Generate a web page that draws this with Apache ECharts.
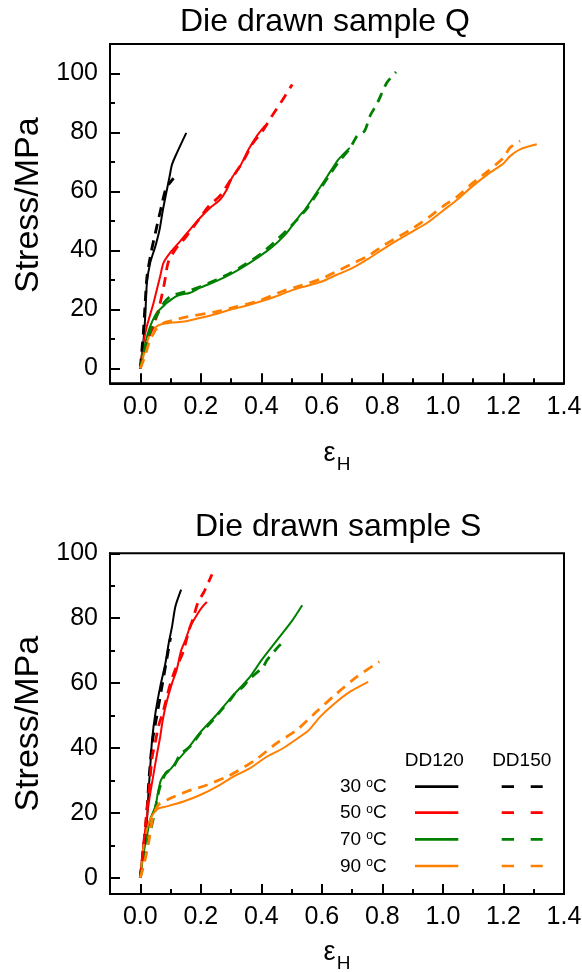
<!DOCTYPE html>
<html>
<head>
<meta charset="utf-8">
<script src="https://cdn.jsdelivr.net/npm/echarts@6/dist/echarts.min.js"></script>
<style>
html,body{margin:0;padding:0;background:#fff;}
#chart{width:582px;height:972px;}
</style>
</head>
<body>
<div id="chart"></div>
<script>
// ---------- tick values ----------
const xMajorTicks = [0, 0.2, 0.4, 0.6, 0.8, 1.0, 1.2, 1.4];
const xMinorTicks = [0.1, 0.3, 0.5, 0.7, 0.9, 1.1, 1.3];
const yMajorTicks = [0, 20, 40, 60, 80, 100];
const yMinorTicks = [10, 30, 50, 70, 90];

// ---------- legend / names ----------
const temperatures = ['30', '50', '70', '90'];
const samples = ['DD120', 'DD150'];
const colors = ['#000000', '#ff0000', '#008000', '#ff8000'];
const titles = ['Die drawn sample Q', 'Die drawn sample S'];

// ---------- Sample Q (top) : [strain, stress] ----------
const q30_dd120 = [[0,0],[0.011,9.9],[0.0165,17.8],[0.022,29.1],[0.033,35.9],[0.05,41.5],[0.064,47.2],[0.075,53.9],[0.086,59.6],[0.097,65.2],[0.105,69.2],[0.121,73.1],[0.152,79.9]];
const q30_dd150 = [[0,0],[0.01,12],[0.016,22],[0.022,31],[0.035,39],[0.05,46],[0.07,55],[0.085,61],[0.11,64.5]];
const q50_dd120 = [[0,0],[0.011,9],[0.022,14.4],[0.044,22.3],[0.066,31.4],[0.077,35.9],[0.099,39.3],[0.132,43.2],[0.165,47.2],[0.198,51.1],[0.231,54.5],[0.264,57.3],[0.286,60.7],[0.303,64.7],[0.33,68.6],[0.358,74.3],[0.385,78.8],[0.413,82.4]];
const q50_dd150 = [[0,0],[0.012,5],[0.03,11],[0.045,15],[0.061,20.1],[0.08,29.1],[0.092,35.9],[0.116,40.4],[0.153,44.9],[0.19,50],[0.227,55.1],[0.263,58.5],[0.3,64.1],[0.337,69.8],[0.373,76.5],[0.404,80.5],[0.435,85.6],[0.471,91.2],[0.502,96.3]];
const q70_dd120 = [[0,0],[0.01,5],[0.02,10],[0.033,14.4],[0.055,19],[0.075,21],[0.088,22.3],[0.121,24.6],[0.165,25.7],[0.198,27.4],[0.253,29.7],[0.308,32.5],[0.363,35.9],[0.418,39.8],[0.45,42.5],[0.484,46],[0.528,52],[0.545,54],[0.582,59.6],[0.618,65.2],[0.655,70.9],[0.692,74.8]];
const q70_dd150 = [[0,0],[0.012,5],[0.025,10],[0.04,15],[0.06,19],[0.08,22.5],[0.1,24.5],[0.13,25.5],[0.165,26.5],[0.2,27.8],[0.25,30],[0.3,32.5],[0.35,35.5],[0.4,39],[0.45,43.5],[0.5,48.5],[0.545,53.5],[0.582,59],[0.618,64.5],[0.655,70],[0.692,74.5],[0.716,78.8],[0.741,80.5],[0.759,85.6],[0.784,90.1],[0.814,96.8],[0.845,100.5]];
const q90_dd120 = [[0,0],[0.01,4],[0.02,8],[0.033,12],[0.05,14],[0.07,15],[0.1,15.5],[0.15,16],[0.2,17.2],[0.25,18.5],[0.3,20],[0.35,21.3],[0.4,22.8],[0.45,24.5],[0.5,26.5],[0.55,28],[0.6,29.5],[0.65,31.8],[0.7,34],[0.75,37],[0.8,40.3],[0.85,43.5],[0.9,46.5],[0.95,49.5],[1.0,53.5],[1.05,57.5],[1.1,62],[1.15,66],[1.2,69.5],[1.222,72],[1.255,74.3],[1.31,76]];
const q90_dd150 = [[0,0],[0.015,4],[0.03,9],[0.05,13],[0.07,15],[0.088,15.8],[0.154,17.5],[0.248,19.2],[0.319,21],[0.391,22.9],[0.473,26.3],[0.528,28],[0.6,30.5],[0.65,33],[0.7,35.5],[0.75,38],[0.8,41.5],[0.85,44.5],[0.9,47.5],[0.95,51],[1.0,55],[1.05,58.5],[1.1,63],[1.15,67],[1.2,71.5],[1.222,74.9],[1.255,77.1]];

// ---------- Sample S (bottom) ----------
const s30_dd120 = [[0,0],[0.009,8.5],[0.022,17.8],[0.027,26],[0.033,34.2],[0.039,42.5],[0.05,50.7],[0.066,58.9],[0.083,66.1],[0.094,72.3],[0.105,77.4],[0.116,83.6],[0.135,88.8]];
const s30_dd150 = [[0,0],[0.01,8],[0.02,18],[0.03,32],[0.04,42],[0.055,50],[0.07,58],[0.085,66],[0.1,74]];
const s50_dd120 = [[0,0],[0.011,10.6],[0.022,18.8],[0.033,26],[0.044,32],[0.055,38],[0.065,43],[0.075,49],[0.088,54.5],[0.105,60],[0.12,64],[0.135,70],[0.15,73.5],[0.165,77.4],[0.187,81],[0.205,83.5],[0.22,85]];
const s50_dd150 = [[0,0],[0.01,9],[0.02,19],[0.03,28],[0.039,37],[0.05,42],[0.061,47],[0.075,51],[0.086,55],[0.1,60],[0.115,64],[0.13,67],[0.143,70],[0.16,76],[0.175,80],[0.19,84.7],[0.21,88],[0.225,91],[0.237,93.5]];
const s70_dd120 = [[0,0],[0.01,7],[0.02,12],[0.033,18],[0.05,22],[0.058,26],[0.068,30],[0.085,32.5],[0.1,33.5],[0.121,36],[0.15,39],[0.2,45],[0.25,50],[0.3,55.5],[0.363,62],[0.4,67],[0.45,73],[0.5,79],[0.535,84]];
const s70_dd150 = [[0,0],[0.015,6],[0.03,13],[0.045,19],[0.055,24],[0.065,28],[0.083,32],[0.11,34.2],[0.132,38],[0.165,40.5],[0.198,44.5],[0.22,46.6],[0.242,48.7],[0.264,51.3],[0.297,54.8],[0.314,56.9],[0.341,59],[0.358,61],[0.407,65.1],[0.418,67],[0.457,71.3],[0.479,73.3]];
const s90_dd120 = [[0,0],[0.011,9.6],[0.027,16.8],[0.044,19.9],[0.061,21.4],[0.088,22],[0.143,23.5],[0.198,25.5],[0.253,28.1],[0.308,31.2],[0.363,33.8],[0.418,37.3],[0.473,40],[0.528,43.5],[0.557,45.5],[0.594,49.6],[0.643,53.8],[0.692,57.3],[0.753,60.4]];
const s90_dd150 = [[0,0],[0.012,4],[0.027,10.6],[0.042,18.8],[0.06,22.5],[0.088,24],[0.154,26.6],[0.22,28.6],[0.292,31.4],[0.38,36.3],[0.451,41.5],[0.518,45.6],[0.58,51],[0.643,56.3],[0.716,62],[0.79,66.6]];

const panelQ = [[q30_dd120, q30_dd150], [q50_dd120, q50_dd150], [q70_dd120, q70_dd150], [q90_dd120, q90_dd150]];
const panelS = [[s30_dd120, s30_dd150], [s50_dd120, s50_dd150], [s70_dd120, s70_dd150], [s90_dd120, s90_dd150]];

// ---------- styling ----------
const FONT = "'Liberation Sans', Arial, Helvetica, sans-serif";
const DASH = [10, 7];

const grids = [
  { left: 110, top: 44, width: 454, height: 339.3, show: true, borderColor: '#000', borderWidth: 2, backgroundColor: 'transparent', containLabel: false, outerBoundsMode: 'none' },
  { left: 110, top: 553.3, width: 454, height: 340.7, show: true, borderColor: '#000', borderWidth: 2, backgroundColor: 'transparent', containLabel: false, outerBoundsMode: 'none' }
];
const yMax = [110, 100];
const yNamePad = [[0, 0, 0, 17], [0, 0, 0, 0]];
const xNameGap = [57, 45];

const xAxis = [], yAxis = [];
grids.forEach((g, gi) => {
  xAxis.push({
    type: 'value', gridIndex: gi, min: -0.1, max: 1.4, position: 'bottom',
    axisLine: { show: true, onZero: false, lineStyle: { color: '#000', width: 2 } },
    axisTick: { show: true, inside: true, length: 10, customValues: xMajorTicks, lineStyle: { color: '#000', width: 2 } },
    axisLabel: { show: true, customValues: xMajorTicks, formatter: v => Number(v).toFixed(1), color: '#000', fontSize: 25, fontFamily: FONT, margin: 11 },
    splitLine: { show: false },
    name: '{e|ε}{h|H}', nameLocation: 'middle', nameGap: xNameGap[gi],
    nameTextStyle: {
      color: '#000', fontFamily: FONT,
      rich: {
        e: { fontSize: 27, fontFamily: FONT, color: '#000', lineHeight: 28, verticalAlign: 'top' },
        h: { fontSize: 19, fontFamily: FONT, color: '#000', lineHeight: 19, verticalAlign: 'top', padding: [15, 0, 0, 1] }
      }
    }
  });
  xAxis.push({
    type: 'value', gridIndex: gi, min: -0.1, max: 1.4, position: 'bottom',
    axisLine: { show: false, onZero: false },
    axisTick: { show: true, inside: true, length: 5, customValues: xMinorTicks, lineStyle: { color: '#000', width: 2 } },
    axisLabel: { show: false }, splitLine: { show: false }
  });
  yAxis.push({
    type: 'value', gridIndex: gi, min: -5, max: yMax[gi], position: 'left',
    axisLine: { show: true, onZero: false, lineStyle: { color: '#000', width: 2 } },
    axisTick: { show: true, inside: true, length: 10, customValues: yMajorTicks, lineStyle: { color: '#000', width: 2 } },
    axisLabel: { show: true, customValues: yMajorTicks, color: '#000', fontSize: 25, fontFamily: FONT, margin: 12 },
    splitLine: { show: false },
    name: 'Stress/MPa', nameLocation: 'middle', nameGap: 62,
    nameTextStyle: { color: '#000', fontSize: 34, fontFamily: FONT, padding: yNamePad[gi] }
  });
  yAxis.push({
    type: 'value', gridIndex: gi, min: -5, max: yMax[gi], position: 'left',
    axisLine: { show: false, onZero: false },
    axisTick: { show: true, inside: true, length: 5, customValues: yMinorTicks, lineStyle: { color: '#000', width: 2 } },
    axisLabel: { show: false }, splitLine: { show: false }
  });
});

const series = [];
[panelQ, panelS].forEach((panel, gi) => {
  panel.forEach((pair, ti) => {
    pair.forEach((data, si) => {
      series.push({
        type: 'line', name: temperatures[ti] + ' ' + samples[si],
        xAxisIndex: gi * 2, yAxisIndex: gi * 2,
        data: data, showSymbol: false, symbol: 'none', smooth: 0.25,
        lineStyle: { color: colors[ti], width: si === 0 ? 2 : 2.8, type: si === 0 ? 'solid' : DASH, cap: 'butt' },
        z: si === 0 ? 3 : 4
      });
    });
  });
});

// ---------- legend (drawn with graphic elements) ----------
const legendGraphics = [];
const headX = [434.3, 521.7];
samples.forEach((s, i) => {
  legendGraphics.push({ type: 'text', x: headX[i], y: 760.5,
    style: { text: s, fontSize: 19, fontFamily: FONT, fill: '#000', align: 'center', verticalAlign: 'middle', textAlign: 'center', textVerticalAlign: 'middle' } });
});
const rowY = [786.7, 812.7, 839.3, 866];
temperatures.forEach((t, i) => {
  legendGraphics.push({ type: 'text', x: 386.7, y: rowY[i] + 0.5,
    style: { text: '{n|' + t + ' }{s|o}{n|C}', align: 'right', verticalAlign: 'middle', textAlign: 'right', textVerticalAlign: 'middle', fill: '#000',
      rich: { n: { fontSize: 19, fontFamily: FONT, fill: '#000', lineHeight: 20 },
              s: { fontSize: 12, fontFamily: FONT, fill: '#000', lineHeight: 11, verticalAlign: 'top' } } } });
  legendGraphics.push({ type: 'line', shape: { x1: 415, y1: rowY[i], x2: 458.3, y2: rowY[i] },
    style: { stroke: colors[i], lineWidth: 2.7 } });
  legendGraphics.push({ type: 'line', shape: { x1: 501.7, y1: rowY[i], x2: 542.7, y2: rowY[i] },
    style: { stroke: colors[i], lineWidth: 2.7, lineDash: [12.3, 16.7] } });
});

const chart = echarts.init(document.getElementById('chart'), null, { renderer: 'canvas' });
chart.setOption({
  backgroundColor: '#ffffff',
  animation: false,
  title: [
    { text: titles[0], left: 180, top: 6, padding: 0, textStyle: { fontSize: 32, fontWeight: 'normal', color: '#000', fontFamily: FONT } },
    { text: titles[1], left: 195, top: 511, padding: 0, textStyle: { fontSize: 32, fontWeight: 'normal', color: '#000', fontFamily: FONT } }
  ],
  grid: grids,
  xAxis: xAxis,
  yAxis: yAxis,
  series: series,
  graphic: legendGraphics
});
</script>
</body>
</html>
